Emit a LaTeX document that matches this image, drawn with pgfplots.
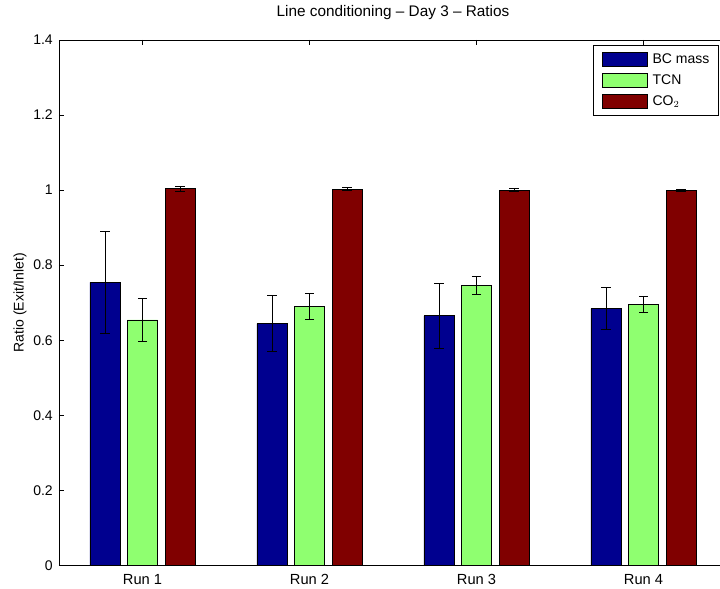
\documentclass[border=0pt]{standalone}
\usepackage{pgfplots}
\pgfplotsset{compat=1.18}
\usepackage{fontspec}
\setmainfont{Liberation Sans}
\definecolor{bcblue}{RGB}{0,0,143}
\definecolor{tcngreen}{RGB}{143,255,112}
\definecolor{codred}{RGB}{128,0,0}
\begin{document}
\begin{tikzpicture}
\begin{axis}[
  at={(0,0)}, anchor=south west,
  scale only axis, width=501pt, height=394pt,
  xmin=0.5, xmax=4.5, ymin=0, ymax=1.4,
  xtick={1,2,3,4}, xticklabels={Run 1,Run 2,Run 3,Run 4},
  ytick={0,0.2,...,1.4},
  yticklabel style={/pgf/number format/fixed,/pgf/number format/precision=1,
    anchor=east, inner sep=0pt, xshift=-4.5pt},
  /pgf/number format/assume math mode=true,
  tick align=inside, major tick length=4pt,
  xtick pos=both, ytick pos=left,
  tick style={black, line width=0.4pt},
  axis line style={line width=0.5pt},
  tick label style={font=\fontsize{10.5}{12}\selectfont},
  xticklabel style={anchor=center, inner sep=0pt, yshift=-10.5pt, font=\fontsize{11}{12}\selectfont},
  label style={font=\fontsize{10.5}{12}\selectfont},
  title style={font=\fontsize{11.5}{13}\selectfont, at={(axis description cs:0.5,1)}, anchor=center, yshift=14.25pt},
  title={Line conditioning -- Day 3 -- Ratios},
  ylabel={Ratio (Exit/Inlet)},
  ylabel style={at={(axis description cs:-0.0584,0.5)}, anchor=center, inner sep=0pt},
  legend cell align=left,
  legend style={at={(0.7988,0.9905)}, anchor=north west, font=\fontsize{10.5}{12}\selectfont,
    draw=black, line width=0.5pt, inner xsep=6.75pt, inner ysep=5pt,
    row sep=4.9pt, column sep=3.75pt, nodes={inner sep=0pt}},
  legend image code/.code={\fill[#1, draw=black] (0pt,-5.25pt) rectangle (33.75pt,5.25pt);},
  error bars/error bar style={black, line width=0.5pt},
  error bars/error mark options={rotate=90, mark size=3.5pt, black, line width=0.6pt},
]
\addplot[ybar, bar width=22.5pt, fill=bcblue, draw=black, line width=0.5pt, bar shift=-28.2pt]
  coordinates {(1,0.754) (2,0.644) (3,0.665) (4,0.684)};
\addlegendentry{BC mass}
\addplot[ybar, bar width=22.5pt, fill=tcngreen, draw=black, line width=0.5pt, bar shift=0pt]
  coordinates {(1,0.654) (2,0.690) (3,0.746) (4,0.696)};
\addlegendentry{TCN}
\addplot[ybar, bar width=22.5pt, fill=codred, draw=black, line width=0.5pt, bar shift=28.2pt]
  coordinates {(1,1.004) (2,1.002) (3,1.000) (4,1.000)};
\addlegendentry{CO$_2$}
% error bars (x positions at the bar centres: category -/+ 0.225)
\addplot[draw=none, mark=none, forget plot, error bars/.cd, y dir=both, y explicit]
  coordinates {(0.775,0.754) +- (0,0.136) (1.775,0.644) +- (0,0.075) (2.775,0.665) +- (0,0.087) (3.775,0.684) +- (0,0.056)};
\addplot[draw=none, mark=none, forget plot, error bars/.cd, y dir=both, y explicit]
  coordinates {(1,0.654) +- (0,0.058) (2,0.690) +- (0,0.034) (3,0.746) +- (0,0.023) (4,0.696) +- (0,0.021)};
\addplot[draw=none, mark=none, forget plot, error bars/.cd, y dir=both, y explicit]
  coordinates {(1.225,1.004) +- (0,0.007) (2.225,1.002) +- (0,0.004) (3.225,1.000) +- (0,0.004) (4.225,1.000) +- (0,0.003)};
\end{axis}
\pgfresetboundingbox
\path (-44.25pt,-17.25pt) rectangle (495.75pt,424pt);
\end{tikzpicture}
\end{document}
